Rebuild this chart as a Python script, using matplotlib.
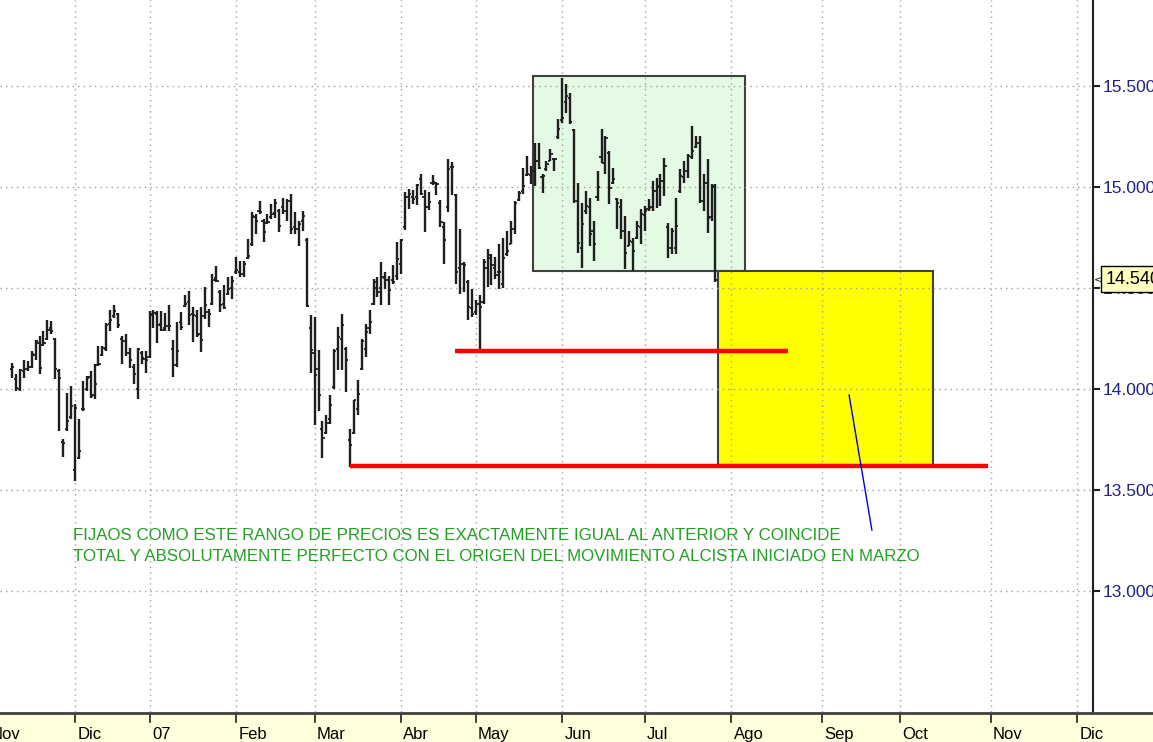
import numpy as np
import pandas as pd
import matplotlib
matplotlib.use("Agg")
import matplotlib.pyplot as plt
from matplotlib.patches import Rectangle

# ---------------- data (IBEX-like daily OHLC, Nov 2006 - Jul 2007) -------------
start_date = "2006-11-09"
holidays = ["2006-12-25", "2006-12-26", "2007-01-01", "2007-04-06", "2007-04-09",
            "2007-05-01", "2007-12-24", "2007-12-25", "2007-12-26", "2007-12-31"]
month_labels = ["Nov", "Dic", "07", "Feb", "Mar", "Abr", "May", "Jun", "Jul",
                "Ago", "Sep", "Oct", "Nov", "Dic"]
price_ticks = [13000, 13500, 14000, 14500, 15000, 15500]
last_price = 14540

opens = [
    14100, 14050, 14000, 14090, 14100, 14110, 14170, 14230, 14220, 14250,
    14300, 14250, 14090, 13740, 13800, 13860, 13600, 13660, 13900, 14000,
    14060, 13970, 14120, 14170, 14200, 14320, 14360, 14370, 14250, 14240,
    14180, 14110, 14000, 14180, 14150, 14160, 14370, 14370, 14320, 14300,
    14310, 14200, 14120, 14330, 14410, 14430, 14370, 14360, 14270, 14360,
    14380, 14420, 14550, 14480, 14420, 14470, 14500, 14580, 14580, 14570,
    14650, 14720, 14850, 14880, 14830, 14820, 14850, 14870, 14880, 14900,
    14880, 14930, 14800, 14790, 14830, 14740, 14300, 14180, 14100, 13800,
    13780, 13850, 14010, 14200, 14250, 14200, 13750, 13780, 13900, 14100,
    14200, 14300, 14420, 14500, 14500, 14550, 14540, 14540, 14560, 14620,
    14800, 14950, 14950, 14950, 15040, 14950, 14900, 15020, 15020, 14920,
    14800, 14900, 15100, 14960, 14600, 14620, 14530, 14400, 14380, 14420,
    14430, 14600, 14650, 14600, 14580, 14520, 14670, 14720, 14790, 14935,
    14980, 15060, 15060, 15080, 15130, 15050, 15090, 15130, 15140, 15250,
    15330, 15420, 15440, 15280, 14930, 14700, 14880, 14900, 14780, 14950,
    15150, 15120, 15170, 15020, 14940, 14900, 14780, 14710, 14730, 14750,
    14800, 14860, 14890, 14900, 14980, 15000, 15030, 14800, 14700, 14700,
    14980, 15050, 15080, 15150, 15200, 15220, 14930, 15020, 14850, 15000,
]
highs = [
    14130, 14072, 14097, 14146, 14138, 14187, 14245, 14261, 14286, 14344,
    14336, 14253, 14097, 13751, 13982, 14015, 13924, 13850, 14039, 14064,
    14089, 14122, 14212, 14212, 14327, 14393, 14418, 14377, 14261, 14270,
    14204, 14122, 14204, 14187, 14187, 14385, 14393, 14385, 14385, 14377,
    14418, 14242, 14330, 14382, 14464, 14487, 14406, 14390, 14406, 14505,
    14398, 14570, 14611, 14488, 14513, 14554, 14562, 14656, 14636, 14636,
    14743, 14874, 14866, 14931, 14841, 14866, 14915, 14939, 14890, 14948,
    14939, 14964, 14874, 14833, 14882, 14750, 14365, 14357, 14193, 13840,
    13873, 13969, 14200, 14307, 14373, 14208, 13804, 13944, 14043, 14249,
    14323, 14390, 14546, 14554, 14629, 14579, 14562, 14612, 14728, 14744,
    14975, 14992, 14984, 15017, 15066, 14984, 14975, 15058, 15025, 14934,
    14827, 15140, 15124, 14967, 14794, 14629, 14538, 14497, 14439, 14464,
    14645, 14695, 14670, 14653, 14720, 14749, 14782, 14832, 14931, 14980,
    15096, 15154, 15104, 15220, 15220, 15063, 15129, 15187, 15146, 15335,
    15541, 15508, 15467, 15286, 15022, 14923, 14980, 14947, 14832, 15079,
    15286, 15252, 15178, 15096, 14947, 14939, 14857, 14782, 14749, 14832,
    14890, 14906, 14939, 15030, 15046, 15063, 15145, 14824, 14799, 14947,
    15088, 15129, 15162, 15302, 15252, 15252, 15063, 15137, 15013, 15013,
]
lows = [
    14056, 13990, 13990, 14056, 14089, 14105, 14146, 14072, 14212, 14245,
    14270, 14048, 13793, 13661, 13793, 13850, 13546, 13653, 13891, 13990,
    13957, 13949, 14113, 14163, 14187, 14286, 14353, 14303, 14122, 14163,
    14105, 14023, 13949, 14122, 14081, 14155, 14303, 14229, 14286, 14286,
    14286, 14062, 14110, 14292, 14406, 14316, 14234, 14259, 14185, 14349,
    14308, 14414, 14529, 14382, 14398, 14464, 14447, 14570, 14554, 14554,
    14644, 14710, 14767, 14866, 14726, 14816, 14841, 14849, 14775, 14866,
    14833, 14767, 14767, 14710, 14784, 14406, 14078, 13824, 13890, 13660,
    13775, 13829, 14002, 14092, 14092, 13985, 13615, 13779, 13870, 14092,
    14158, 14274, 14414, 14455, 14414, 14497, 14414, 14521, 14538, 14571,
    14785, 14893, 14917, 14910, 14959, 14777, 14885, 15008, 14959, 14802,
    14620, 14876, 14959, 14521, 14472, 14480, 14340, 14357, 14365, 14188,
    14422, 14505, 14513, 14546, 14497, 14501, 14658, 14716, 14766, 14931,
    14964, 15055, 15013, 15005, 15088, 14972, 15080, 15129, 15080, 15236,
    15318, 15368, 15310, 14923, 14675, 14601, 14865, 14708, 14634, 14931,
    15120, 15063, 14914, 15013, 14790, 14741, 14592, 14708, 14584, 14741,
    14716, 14782, 14881, 14881, 14898, 14906, 14956, 14650, 14667, 14667,
    14972, 15022, 15046, 15137, 15195, 14923, 14881, 14774, 14832, 14530,
]
closes = [
    14108, 14003, 14092, 14097, 14108, 14171, 14237, 14105, 14229, 14294,
    14286, 14097, 14056, 13735, 13842, 13916, 13908, 13694, 13900, 14056,
    13965, 14023, 14122, 14204, 14319, 14344, 14385, 14319, 14237, 14179,
    14146, 14072, 14196, 14155, 14146, 14368, 14377, 14319, 14294, 14311,
    14311, 14120, 14190, 14308, 14420, 14365, 14365, 14267, 14242, 14414,
    14373, 14540, 14537, 14414, 14400, 14497, 14537, 14587, 14570, 14620,
    14660, 14857, 14833, 14874, 14775, 14825, 14866, 14923, 14808, 14882,
    14931, 14792, 14792, 14816, 14857, 14410, 14193, 14070, 13972, 13758,
    13832, 13919, 14190, 14258, 14315, 14142, 13721, 13944, 13977, 14240,
    14282, 14332, 14530, 14480, 14554, 14538, 14488, 14530, 14645, 14736,
    14950, 14967, 14942, 15008, 14967, 14901, 14926, 15025, 15017, 14827,
    14736, 15091, 15099, 14579, 14620, 14612, 14406, 14373, 14422, 14406,
    14629, 14662, 14612, 14563, 14579, 14650, 14683, 14790, 14923, 14972,
    15005, 15063, 15079, 15129, 15096, 15055, 15112, 15162, 15137, 15286,
    15340, 15450, 15320, 14931, 14725, 14815, 14906, 14766, 14716, 15000,
    15120, 15244, 14997, 15038, 14923, 14782, 14675, 14733, 14683, 14807,
    14865, 14881, 14898, 14980, 15005, 15030, 15104, 14700, 14782, 14807,
    15055, 15079, 15153, 15178, 15220, 14931, 15022, 14848, 15005, 14540,
]

# annotation levels (prices)
box_top, box_mid, box_bottom = 15550, 14584, 13624
support_high, support_low = 14188, 13620
note_lines = ["FIJAOS COMO ESTE RANGO DE PRECIOS ES EXACTAMENTE IGUAL AL ANTERIOR Y COINCIDE",
              "TOTAL Y ABSOLUTAMENTE PERFECTO CON EL ORIGEN DEL MOVIMIENTO ALCISTA INICIADO EN MARZO"]

# ---------------- trading-day calendar -------------
days = pd.bdate_range("2006-11-01", "2007-12-31")
days = days[~days.isin(pd.to_datetime(holidays))]
i0 = days.get_loc(pd.Timestamp(start_date))


def pos(d):
    return int(np.searchsorted(days.values, np.datetime64(pd.Timestamp(d)))) - i0


month_starts = pd.date_range("2006-11-01", "2007-12-01", freq="MS")
month_pos = [pos(d) for d in month_starts]

# ---------------- figure -------------
W, H = 1153, 742
fig = plt.figure(figsize=(W / 100, H / 100), dpi=100)
x0_px, px_per_bar = 12.0, 3.93
xl = (0 - x0_px) / px_per_bar
xr = (1093 - x0_px) / px_per_bar

ax = fig.add_axes([0, 30 / H, 1093 / W, 712 / H])
ax.set_xlim(xl, xr)
ax.set_ylim(12401, 15926)
for s in ["left", "top", "bottom"]:
    ax.spines[s].set_visible(False)
ax.spines["right"].set_color("#202020")
ax.spines["right"].set_linewidth(1.5)

x = np.arange(len(closes))

# boxes
ax.add_patch(Rectangle((132.6, box_mid), 186.6 - 132.6, box_top - box_mid,
                       facecolor="#e4fae4", edgecolor="#404040", lw=1.5, zorder=1))
ax.add_patch(Rectangle((179.6, box_bottom), 234.4 - 179.6, box_mid - box_bottom,
                       facecolor="#ffff00", edgecolor="#404040", lw=1.5, zorder=1))

# grid
grid_kw = dict(color="#a0a0a0", lw=1.0, linestyle=(0, (1, 3)), zorder=1.5)
for p in price_ticks:
    ax.axhline(p, **grid_kw)
for mp in month_pos[1:]:
    ax.axvline(mp, **grid_kw)

# OHLC bars
bar_col = "#1e1e1e"
ax.vlines(x, lows, highs, color=bar_col, lw=1.7, zorder=3)
ax.hlines(opens, x - 0.55, x, color=bar_col, lw=1.3, zorder=3)
ax.hlines(closes, x, x + 0.55, color=bar_col, lw=1.3, zorder=3)

# red support lines
ax.plot([112.7, 197.5], [support_high, support_high], color="#ff0000", lw=3.2,
        solid_capstyle="butt", zorder=4)
ax.plot([86.0, 248.3], [support_low, support_low], color="#ff0000", lw=3.2,
        solid_capstyle="butt", zorder=4)

# blue pointer
ax.plot([213.0, 218.8], [13970, 13302], color="#0000dd", lw=1.0, zorder=4)

# note text
ax.text(15.5, 13310, note_lines[0], color="#22a022", fontsize=12.2,
        family="Liberation Sans", va="top", ha="left", zorder=5)
ax.text(15.5, 13210, note_lines[1], color="#22a022", fontsize=12.2,
        family="Liberation Sans", va="top", ha="left", zorder=5)

# y axis at right
ax.set_xticks([])
ax.yaxis.tick_right()
ax.set_yticks(price_ticks)
ax.set_yticklabels([f"{p:,}".replace(",", ".") for p in price_ticks],
                   family="Liberation Sans")
ax.tick_params(axis="y", direction="out", length=5, width=1.5, color="#202020",
               labelcolor="#20208a", labelsize=12.5, pad=2)

# last price marker
fig.text(1094 / W, 1 - 279 / H, "<", fontsize=8, color="#202020", va="center",
         ha="left", zorder=6)
fig.text(1106 / W, 1 - 279 / H, f"{last_price:,}".replace(",", "."), fontsize=13,
         family="Liberation Sans", color="black", va="center", ha="left", zorder=6,
         bbox=dict(boxstyle="square,pad=0.25", fc="#ffffc0", ec="black", lw=1.0))

# ---------------- time band -------------
band = fig.add_axes([0, 0, 1, 29 / H])
band.set_facecolor("#ffffdc")
band.set_xlim(xl, xl + W / px_per_bar)
band.set_ylim(0, 1)
band.set_xticks([])
band.set_yticks([])
for s in ["left", "right", "bottom"]:
    band.spines[s].set_visible(False)
band.spines["top"].set_color("#404040")
band.spines["top"].set_linewidth(2)
for mp, lab in zip(month_pos, month_labels):
    band.plot([mp, mp], [1, 1 - 9 / 29], color="#202020", lw=1.2)
    band.text(mp + 0.6, 0.1, lab, fontsize=12, family="Liberation Sans",
              color="black", va="baseline", ha="left")

fig.savefig("out.png", dpi=100)
